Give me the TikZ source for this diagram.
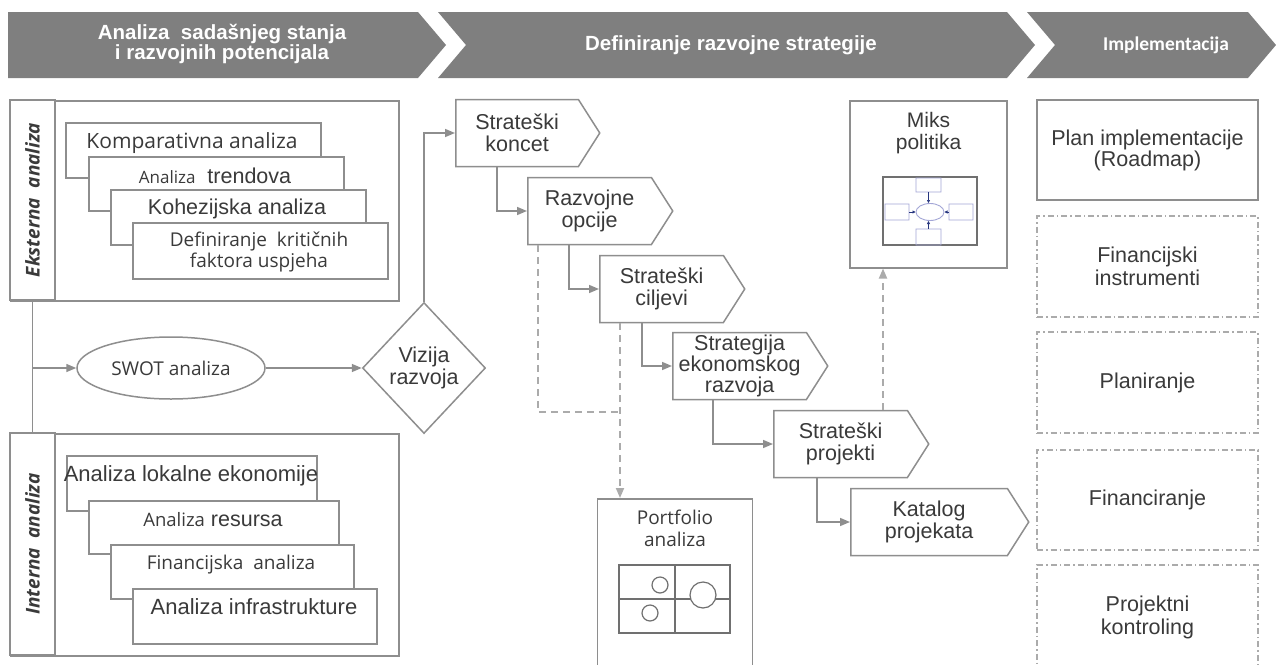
\documentclass[tikz,border=0pt]{standalone}
\usepackage{fontspec}
\setmainfont{Liberation Sans}
\newfontfamily\opensans{Open Sans}
\newfontfamily\carlito{Carlito}
\usetikzlibrary{positioning,shapes.geometric,shapes.symbols,arrows.meta}

\definecolor{hdrgray}{HTML}{7F7F7F}
\definecolor{linegray}{HTML}{8E8E8E}
\definecolor{dashgray}{HTML}{ABABAB}
\definecolor{txtgray}{HTML}{3A3A3A}
\definecolor{icongray}{HTML}{707070}
\definecolor{iconblue}{HTML}{A3A6D6}
\definecolor{iconnavy}{HTML}{26357E}

\newcommand{\boxsize}{\fontsize{21.5}{22}\selectfont}
\newcommand{\humsize}{\opensans\fontsize{19}{21}\selectfont}
\newcommand{\smallhum}{\opensans\fontsize{17}{20}\selectfont}

\tikzset{
	box/.style={draw=linegray, line width=1.5pt, fill=white, text=txtgray, align=center, inner sep=0pt, font=\boxsize},
	layer/.style={box, anchor=north west},
	chev/.style={shape=signal, signal to=east, signal pointer angle=115, draw=linegray, line width=1.5pt, fill=white, text=txtgray, align=center, minimum height=67pt, inner sep=2pt, anchor=west, font=\boxsize},
	dashdot/.style={draw=dashgray, line width=1.5pt, dash pattern=on 6pt off 3pt on 1.5pt off 3pt, text=txtgray, align=center, inner sep=0pt, font=\boxsize, minimum width=221pt},
	txt/.style={text=txtgray, align=center, inner sep=0pt},
	hdr/.style={text=white, align=center, font=\bfseries\fontsize{20.5}{18}\selectfont},
	conn/.style={draw=linegray, line width=1.5pt},
	dashconn/.style={draw=dashgray, line width=1.8pt, dash pattern=on 7pt off 5pt},
	sidelabel/.style={box, rotate=90, minimum height=45pt, font=\opensans\bfseries\itshape\fontsize{19}{20}\selectfont},
}

\begin{document}
\begin{tikzpicture}[x=1pt, y=-1pt, >={Triangle[length=10pt,width=8pt]}]
	\useasboundingbox (0,0) rectangle (1276,664);

	% phases
	\fill[hdrgray] (8,12) -- (418,12) -- (446,45) -- (418,78) -- (8,78) -- cycle;
	\fill[hdrgray] (438,12) -- (1007,12) -- (1035,45) -- (1007,78) -- (438,78) -- (466,45) -- cycle;
	\fill[hdrgray] (1027,12) -- (1248,12) -- (1276,45) -- (1248,78) -- (1027,78) -- (1055,45) -- cycle;
	\node[hdr] (hdrAnaliza) at (222,44) {Analiza\ \ sadašnjeg stanja\\i razvojnih potencijala};
	\node[hdr] (hdrStrategija) at (731,45) {Definiranje razvojne strategije};
	\node[hdr, font=\carlito\bfseries\fontsize{19.5}{20}\selectfont] (hdrImpl) at (1166,45) {Implementacija};

	% eksterna analiza
	\node[box, minimum width=388pt, minimum height=200pt, anchor=north west] (eksterna) at (10,100) {};
	\node[sidelabel, minimum width=200pt] (ekslbl) at (32.5,200) {Eksterna\ \ analiza};
	\node[layer, minimum width=255pt, minimum height=55pt] (komparativna) at (65,122) {};
	\node[txt, font=\humsize\fontsize{21}{22}\selectfont] (komparativnaTxt) at (192,143) {Komparativna analiza};
	\node[layer, minimum width=255pt, minimum height=54pt] (trendovi) at (88,156) {};
	\node[txt, font=\boxsize] (trendoviTxt) at (215,176) {{\smallhum Analiza}\ \ trendova};
	\node[layer, minimum width=255pt, minimum height=55pt] (kohezija) at (110,189) {};
	\node[txt, font=\boxsize] (kohezijaTxt) at (237,209) {Kohezijska analiza};
	\node[layer, minimum width=255pt, minimum height=56pt] (faktori) at (132,222) {};
	\node[txt, font=\humsize] (faktoriTxt) at (259,252) {Definiranje\ \ kritičnih\\faktora uspjeha};

	% interna analiza
	\node[box, minimum width=388pt, minimum height=222pt, anchor=north west] (interna) at (10,433) {};
	\node[sidelabel, minimum width=222pt] (intlbl) at (32.5,544) {Interna\ \ analiza};
	\node[layer, minimum width=250pt, minimum height=55pt] (lokalna) at (66,455) {};
	\node[txt, font=\fontsize{22}{22}\selectfont] (lokalnaTxt) at (191,476) {Analiza lokalne ekonomije};
	\node[layer, minimum width=250pt, minimum height=53pt] (resursi) at (88,500) {};
	\node[txt, font=\boxsize] (resursiTxt) at (213,520) {{\opensans\fontsize{18.5}{20}\selectfont Analiza} resursa};
	\node[layer, minimum width=243pt, minimum height=54pt] (financije) at (110,544) {};
	\node[txt, font=\humsize] (financijeTxt) at (231,565) {Financijska\ \ analiza};
	\node[layer, minimum width=244pt, minimum height=55pt] (infra) at (132,588) {};
	\node[txt, font=\fontsize{22}{22}\selectfont] (infraTxt) at (254,607) {Analiza infrastrukture};

	% swot i vizija
	\node[box, ellipse, minimum width=188pt, minimum height=62pt, font=\humsize] (swot) at (171,368) {SWOT analiza};
	\node[box, diamond, minimum width=123pt, minimum height=131pt] (vizija) at (424,368) {Vizija\\razvoja};
	\draw[conn] (ekslbl.west) -- (intlbl.east);
	\draw[conn,->] (ekslbl.west |- swot.west) -- (swot.west);
	\draw[conn,->] (swot.east) -- (vizija.west);

	% strategija
	\node[chev, minimum width=144pt] (koncept) at (455,133) {Strateški\\koncet};
	\node[chev, minimum width=145pt] (opcije) at (527,211) {Razvojne\\opcije};
	\node[chev, minimum width=145pt] (ciljevi) at (599,289) {Strateški\\ciljevi};
	\node[chev, minimum width=155pt, font=\fontsize{21.5}{18.5}\selectfont] (strategija) at (672,366) {Strategija\\ekonomskog\\razvoja};
	\node[chev, minimum width=155pt] (projekti) at (773,444) {Strateški\\projekti};
	\node[chev, minimum width=178pt] (katalog) at (850,522) {Katalog\\projekata};

	\draw[conn,->] (vizija.north) |- (koncept.west);
	\draw[conn,->] ([xshift=42pt]koncept.west |- koncept.south) |- (opcije.west);
	\draw[conn,->] ([xshift=42pt]opcije.west |- opcije.south) |- (ciljevi.west);
	\draw[conn,->] ([xshift=43pt]ciljevi.west |- ciljevi.south) |- (strategija.west);
	\draw[conn,->] ([xshift=41pt]strategija.west |- strategija.south) |- (projekti.west);
	\draw[conn,->] ([xshift=44pt]projekti.west |- projekti.south) |- (katalog.west);

	% portfolio
	\node[box, anchor=north, minimum width=155pt, minimum height=180pt] (portfolio) at (675,498) {};
	\node[txt, font=\humsize\fontsize{19}{22}\selectfont, below=12pt of portfolio.north] (portfolioTxt) {Portfolio\\analiza};
	\draw[icongray, line width=1.2pt] (619,565) rectangle (730,633) (675,565) -- (675,633) (619,599) -- (730,599);
	\draw[icongray, line width=1.2pt, fill=white] (660,585) circle (8) (650,613) circle (8) (703,595) circle (13);

	\coordinate (dashjoin) at (620,412);
	\draw[dashconn] ([xshift=11pt]opcije.west |- opcije.south) |- (dashjoin);
	\draw[dashconn,->] (dashjoin |- ciljevi.south) -- (dashjoin |- portfolio.north);

	% miks politika
	\node[box, anchor=north, minimum width=157pt, minimum height=167pt] (miks) at (928.5,100) {};
	\node[txt, font=\fontsize{21}{22}\selectfont, below=12pt of miks.north] (miksTxt) {Miks\\politika};
	\draw[icongray, line width=1.2pt] (883,177) rectangle (977,245);
	\draw[iconblue, line width=0.9pt] (916,178) rectangle (941,192) (916,229) rectangle (941,245)
		(885,204) rectangle (909,220) (949,204) rectangle (973,220) (930,212) ellipse (14 and 8.5);
	\draw[iconnavy, line width=0.7pt, -{Triangle[length=3pt,width=3pt]}] (928.5,192) -- (928.5,203);
	\draw[iconnavy, line width=0.7pt, -{Triangle[length=3pt,width=3pt]}] (928.5,229) -- (928.5,221);
	\draw[iconnavy, line width=0.7pt, -{Triangle[length=3pt,width=3pt]}] (909,212) -- (915.5,212);
	\draw[iconnavy, line width=0.7pt, -{Triangle[length=3pt,width=3pt]}] (949,212) -- (944.5,212);
	\draw[dashconn,->] ([xshift=110pt]projekti.west |- projekti.north) -- ([xshift=110pt]projekti.west |- miks.south);

	% implementacija
	\node[box, minimum width=221pt, minimum height=100pt, font=\fontsize{21.5}{20}\selectfont] (plan) at (1147.5,150) {Plan implementacije\\(Roadmap)};
	\node[dashdot, minimum height=101pt, font=\fontsize{21.5}{23}\selectfont] (instrumenti) at (1147.5,266.5) {Financijski\\instrumenti};
	\node[dashdot, minimum height=101pt] (planiranje) at (1147.5,382.5) {Planiranje};
	\node[dashdot, minimum height=100pt] (financiranje) at (1147.5,500) {Financiranje};
	\node[dashdot, minimum height=104pt, font=\fontsize{21.5}{23}\selectfont] (kontroling) at (1147.5,617) {Projektni\\kontroling};
\end{tikzpicture}
\end{document}
